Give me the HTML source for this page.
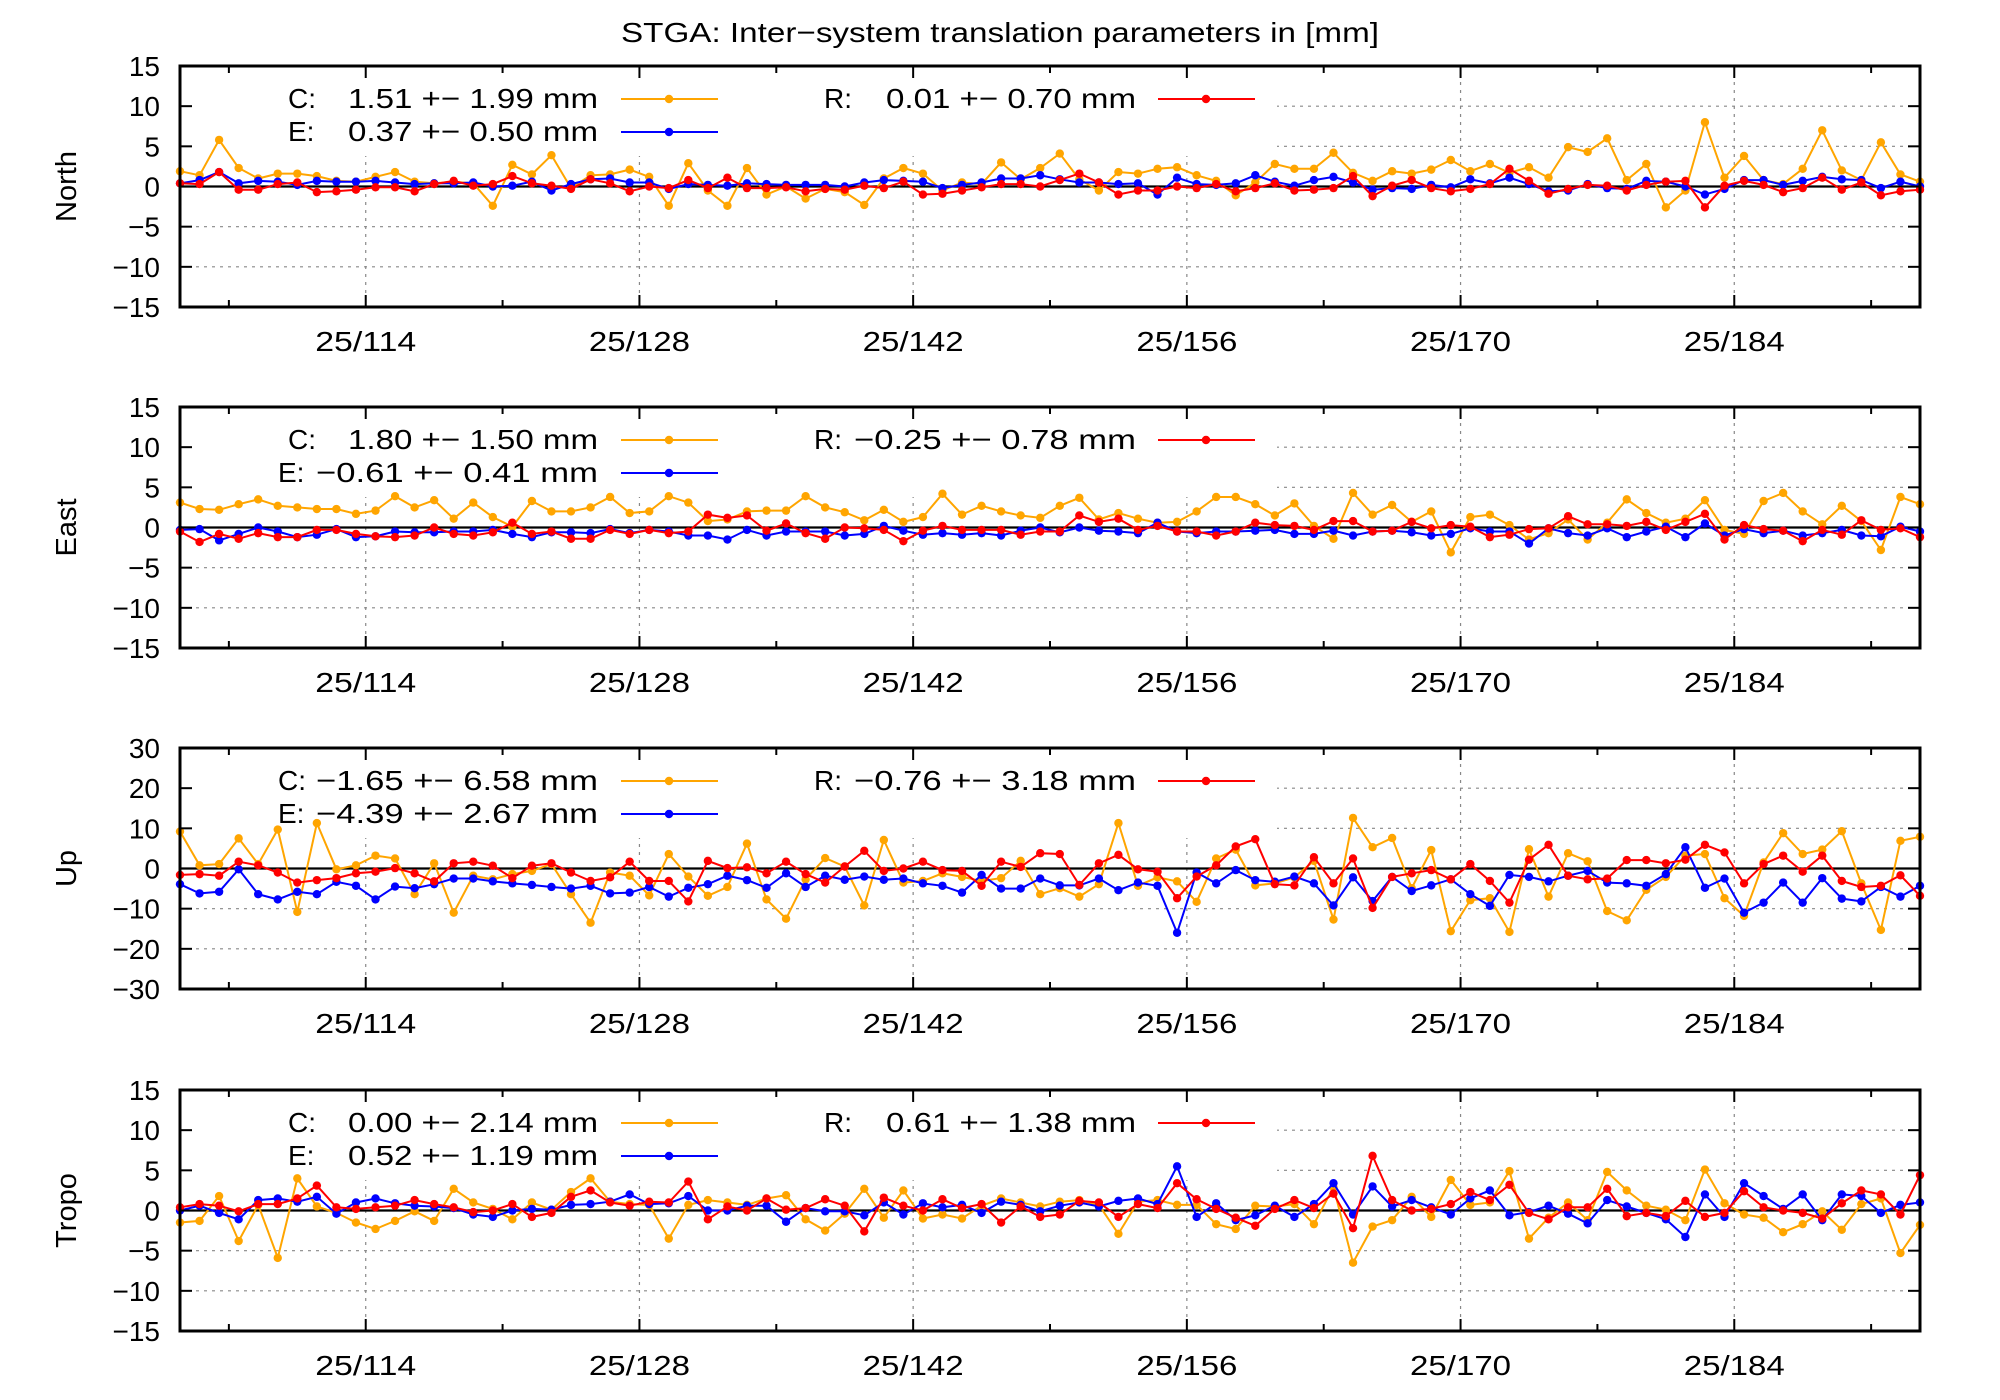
<!DOCTYPE html>
<html><head><meta charset="utf-8"><title>STGA inter-system translation parameters</title>
<style>
html,body{margin:0;padding:0;background:#fff;}
svg{display:block;font-family:"Liberation Sans",sans-serif;}
</style></head>
<body>
<svg id="chart" width="2000" height="1400" viewBox="0 0 2000 1400" xmlns="http://www.w3.org/2000/svg">
<rect x="0" y="0" width="2000" height="1400" fill="#fff"/>
<text x="1000" y="42" font-size="28" text-anchor="middle" textLength="758" lengthAdjust="spacingAndGlyphs">STGA: Inter−system translation parameters in [mm]</text>
</svg>
<script>
const days = Array.from({length: 90}, (_, i) => 104.5 + i);
const xTickDays = [114, 128, 142, 156, 170, 184];
const xTickLabels = ["25/114", "25/128", "25/142", "25/156", "25/170", "25/184"];
const xMinorDays = [107, 121, 135, 149, 163, 177, 191];

const northC = [1.9,1.4,5.8,2.3,1.0,1.6,1.6,1.3,0.7,0.6,1.2,1.8,0.6,0.4,0.6,0.4,-2.4,2.7,1.5,3.9,-0.2,1.4,1.5,2.1,1.2,-2.4,2.9,-0.5,-2.4,2.3,-1.0,
0,-1.5,-0.3,-0.7,-2.3,1.0,2.3,1.6,-0.5,0.5,0.3,3.0,0.9,2.3,4.1,0.9,-0.5,1.8,1.6,2.2,2.4,1.4,0.7,-1.1,0.5,2.8,2.2,2.2,4.2,1.7,
0.7,1.9,1.6,2.1,3.3,1.9,2.8,1.7,2.4,1.1,4.9,4.3,6.0,0.8,2.8,-2.6,-0.5,8.0,1.1,3.8,0.8,0.3,2.2,7.0,2.0,0.8,5.5,1.5,0.6];
const northE = [0.4,0.8,1.8,0.4,0.7,0.6,0.2,0.7,0.6,0.6,0.7,0.5,0.3,0.4,0.4,0.5,0,0.1,0.6,-0.5,0.3,0.9,1.0,0.5,0.5,-0.3,0.3,0.2,0.1,0.4,0.3,
0.2,0.2,0.2,0,0.5,0.8,0.7,0.6,-0.2,0.2,0.5,1.0,1.0,1.4,0.9,0.5,0.5,0.3,0.4,-1.0,1.1,0.3,0.2,0.4,1.4,0.6,0.1,0.8,1.2,0.5,
-0.4,-0.2,-0.3,0.2,-0.1,0.9,0.4,1.1,0.3,-0.6,-0.5,0.3,-0.2,-0.3,0.7,0.6,0,-1.0,-0.3,0.8,0.8,0.2,0.7,1.2,0.9,0.8,-0.2,0.6,0];
const northR = [0.4,0.3,1.8,-0.4,-0.4,0.3,0.5,-0.7,-0.6,-0.4,-0.1,-0.1,-0.6,0.3,0.7,0.1,0.3,1.3,0.4,0.1,-0.3,0.9,0.4,-0.6,0,-0.2,0.8,-0.2,1.1,-0.2,-0.2,
-0.1,-0.6,-0.3,-0.4,0.1,-0.2,0.6,-1.0,-0.9,-0.5,-0.1,0.3,0.3,0,0.8,1.6,0.5,-1.0,-0.5,-0.5,0,-0.2,0.3,-0.6,-0.2,0.4,-0.5,-0.4,-0.2,1.3,
-1.2,0.1,0.8,-0.2,-0.6,-0.3,0.3,2.2,0.7,-0.9,-0.3,0.2,0.1,-0.5,0.2,0.6,0.7,-2.6,0.1,0.7,0.2,-0.7,-0.2,1.1,-0.4,0.5,-1.1,-0.6,-0.4];

const eastC = [3.1,2.3,2.2,2.9,3.5,2.7,2.5,2.3,2.3,1.7,2.1,3.9,2.5,3.4,1.1,3.1,1.3,0.1,3.3,2.0,2.0,2.5,3.8,1.8,2.0,3.9,3.1,0.8,1.0,2.0,2.1,
2.1,3.9,2.5,1.9,0.9,2.2,0.7,1.3,4.2,1.6,2.7,2.0,1.5,1.2,2.7,3.7,1.0,1.8,1.1,0.6,0.7,2.0,3.8,3.8,2.9,1.5,3.0,0.2,-1.4,4.3,
1.6,2.8,0.7,2.0,-3.1,1.3,1.6,0.3,-1.5,-0.7,1.0,-1.5,0.6,3.5,1.8,0.6,1.1,3.4,-0.3,-0.8,3.3,4.3,2.0,0.4,2.7,0.8,-2.8,3.8,2.9];
const eastE = [-0.3,-0.2,-1.6,-0.8,0,-0.5,-1.2,-0.9,-0.2,-1.2,-1.1,-0.5,-0.6,-0.6,-0.5,-0.5,-0.3,-0.8,-1.2,-0.6,-0.6,-0.7,-0.2,-0.7,-0.3,-0.5,-1.0,-1.0,-1.5,-0.3,-1.0,
-0.5,-0.5,-0.5,-1.0,-0.8,0.2,-0.4,-0.9,-0.7,-0.9,-0.7,-1.0,-0.4,0,-0.6,0,-0.4,-0.5,-0.7,0.6,-0.5,-0.7,-0.5,-0.5,-0.4,-0.3,-0.8,-0.8,-0.4,-1.0,
-0.5,-0.4,-0.6,-1.0,-0.8,-0.1,-0.5,-0.5,-2.0,-0.1,-0.7,-1.0,-0.1,-1.2,-0.5,0.1,-1.2,0.5,-1.0,-0.2,-0.7,-0.4,-1.0,-0.7,-0.3,-1.0,-1.1,0.1,-0.5];
const eastR = [-0.5,-1.8,-0.8,-1.4,-0.7,-1.2,-1.2,-0.3,-0.3,-0.8,-1.1,-1.2,-1.0,0,-0.8,-1.0,-0.6,0.6,-0.8,-0.5,-1.4,-1.4,-0.3,-0.8,-0.3,-0.7,-0.5,1.6,1.2,1.5,-0.4,
0.5,-0.7,-1.4,0,-0.1,-0.3,-1.7,-0.4,0.2,-0.3,-0.3,-0.3,-0.9,-0.5,-0.5,1.5,0.7,1.1,-0.3,0.2,-0.5,-0.5,-1.0,-0.5,0.6,0.3,0.2,-0.3,0.8,0.8,
-0.5,-0.4,0.7,-0.1,0.3,0.1,-1.2,-0.9,-0.2,-0.1,1.4,0.4,0.4,0.2,0.7,-0.3,0.7,1.7,-1.5,0.3,-0.2,-0.4,-1.7,-0.3,-0.9,0.9,-0.3,-0.1,-1.2];

const upC = [9.2,0.8,1.1,7.5,1.1,9.7,-10.8,11.3,-0.2,0.8,3.2,2.5,-6.4,1.3,-11,-1.8,-2.7,-1.4,-0.6,1.1,-6.4,-13.5,-1,-1.8,-6.7,3.6,-2,-6.8,-4.6,6.2,-7.7,
-12.5,-2.7,2.6,0.5,-9.2,7.1,-3.5,-3.1,-1.2,-2.1,-3.1,-2.4,1.9,-6.4,-4.9,-7,-3.9,11.3,-4.3,-2.2,-3.2,-8.3,2.5,4.7,-4.2,-3.7,-2.2,1.9,-12.7,12.6,
5.3,7.6,-4.9,4.6,-15.6,-7.9,-7.4,-15.8,4.8,-7,3.8,1.8,-10.6,-12.9,-5.3,-2.1,3.2,3.6,-7.4,-11.8,1.5,8.8,3.6,4.7,9.3,-3.7,-15.3,6.9,7.9];
const upE = [-3.9,-6.2,-5.8,-0.2,-6.4,-7.7,-5.8,-6.4,-3.3,-4.3,-7.7,-4.5,-4.9,-3.9,-2.5,-2.5,-3.2,-3.7,-4.1,-4.6,-5,-4.3,-6.2,-6,-4.6,-7,-4.8,-3.9,-1.8,-2.9,-4.8,
-1.2,-4.6,-1.8,-2.8,-2,-2.8,-2.5,-3.7,-4.3,-6,-1.6,-5,-5,-2.5,-4.2,-4.2,-2.5,-5.4,-3.5,-4.3,-16,-1,-3.7,-0.4,-2.9,-3.3,-2,-3.7,-9.2,-2.2,
-8.1,-2.1,-5.6,-4.2,-2.7,-6.4,-9.3,-1.6,-2.1,-3.2,-1.8,-0.6,-3.5,-3.7,-4.3,-1.4,5.3,-4.8,-2.5,-11,-8.5,-3.5,-8.5,-2.4,-7.5,-8.2,-4.6,-7,-4.3];
const upR = [-1.6,-1.4,-1.8,1.7,0.8,-1,-3.5,-2.9,-2.4,-1.2,-0.8,0.1,-1.2,-3.2,1.3,1.7,0.7,-2.4,0.7,1.3,-1,-3.1,-2.2,1.7,-3.1,-3.1,-8.2,1.9,0.1,0.3,-1.2,
1.7,-1.4,-3.5,0.5,4.4,-0.6,0,1.7,-0.4,-0.6,-4.3,1.7,0.4,3.8,3.6,-4.1,1.3,3.4,-0.2,-0.8,-7.4,-2,0.8,5.5,7.3,-3.9,-4.2,2.8,-3.7,2.5,
-9.8,-2.1,-1.2,-0.4,-2.7,1.1,-3.1,-8.5,2.2,5.9,-1.8,-2.7,-2.5,2.1,2.1,1.3,2.2,5.9,4,-3.7,1.1,3.2,-0.8,3.2,-3.1,-4.6,-4.3,-1.7,-6.8];

const tropoC = [-1.5,-1.3,1.8,-3.8,0.7,-5.9,4.0,0.5,-0.3,-1.5,-2.3,-1.3,-0.1,-1.3,2.7,1.0,0.2,-1.1,1.0,0.1,2.3,4.0,1.1,0.8,0.7,-3.5,0.7,1.3,1.0,0.7,1.5,
1.9,-1.1,-2.5,-0.4,2.7,-0.9,2.5,-1.0,-0.5,-1.0,0.6,1.5,1.0,0.5,1.1,1.3,0.7,-2.9,1.1,1.3,0.7,0.7,-1.7,-2.3,0.6,0.5,0.8,-1.7,2.9,-6.5,
-2.0,-1.2,1.7,-0.8,3.8,0.7,1.0,4.9,-3.5,-0.9,1.0,-1.2,4.8,2.5,0.6,0.1,-1.2,5.1,0.9,-0.5,-0.9,-2.7,-1.7,-0.1,-2.4,0.8,1.5,-5.3,-1.8];
const tropoE = [0,0.6,-0.3,-1.1,1.3,1.5,1.1,1.7,-0.4,1.0,1.5,0.9,0.6,0.5,0.3,-0.5,-0.8,0,0.2,0.1,0.7,0.8,1.1,2.0,0.8,0.9,1.8,0,0,0.6,0.6,
-1.4,0.3,-0.1,-0.1,-0.6,1.0,-0.5,0.9,0.4,0.7,-0.3,1.1,0.7,-0.1,0.6,1.0,0.5,1.2,1.5,0.8,5.5,-0.8,0.9,-1.2,-0.6,0.6,-0.8,0.8,3.4,-0.5,
3.0,0.5,1.3,0.4,-0.5,1.5,2.5,-0.6,-0.2,0.6,-0.4,-1.6,1.3,0.5,-0.3,-1.1,-3.3,2.0,-0.8,3.4,1.8,0.2,2.0,-1.2,2.0,1.8,-0.3,0.7,1.0];
const tropoR = [0.4,0.8,0.6,-0.1,0.8,0.8,1.5,3.1,0.4,0.2,0.4,0.6,1.3,0.8,0.4,-0.2,0,0.8,-0.8,-0.3,1.7,2.5,1.0,0.6,1.1,1.0,3.6,-1.1,0.5,0,1.5,
0.1,0.3,1.4,0.6,-2.6,1.6,0.6,0,1.4,0.3,0.8,-1.5,0.5,-0.8,-0.5,1.2,1.0,-0.8,0.8,0.3,3.4,1.4,0.2,-0.9,-1.9,0.2,1.3,0.3,2.1,-2.2,
6.8,1.3,0,0.2,0.8,2.3,1.3,3.2,-0.3,-1.1,0.4,0.4,2.7,-0.7,-0.3,-0.7,1.2,-0.8,-0.3,2.4,0.4,0,-0.3,-1.0,0.9,2.5,2.0,-0.5,4.4];

const panelNames = ["North", "East", "Up", "Tropo"];
const yTicksSmall = [-15, -10, -5, 0, 5, 10, 15];
const yTicksUp = [-30, -20, -10, 0, 10, 20, 30];
const legendC = ["1.51 +− 1.99 mm", "1.80 +− 1.50 mm", "−1.65 +− 6.58 mm", "0.00 +− 2.14 mm"];
const legendE = ["0.37 +− 0.50 mm", "−0.61 +− 0.41 mm", "−4.39 +− 2.67 mm", "0.52 +− 1.19 mm"];
const legendR = ["0.01 +− 0.70 mm", "−0.25 +− 0.78 mm", "−0.76 +− 3.18 mm", "0.61 +− 1.38 mm"];

const NS = "http://www.w3.org/2000/svg";
const svg = document.getElementById("chart");
const PL = 180, PR = 1920, PH = 241;
const panelTops = [66, 407, 748, 1090];
const XMIN = 104.5, XMAX = 193.5;
const COL = {C: "#ffa500", E: "#0000ff", R: "#ff0000"};
function xScale(d) { return PL + (d - XMIN) / (XMAX - XMIN) * (PR - PL); }
function mk(tag, attrs, parent) {
  const e = document.createElementNS(NS, tag);
  for (const k in attrs) e.setAttribute(k, attrs[k]);
  (parent || svg).appendChild(e);
  return e;
}
function fmt(v) { return v < 0 ? "−" + Math.abs(v) : String(v); }

const seriesByPanel = [[northC, northE, northR], [eastC, eastE, eastR], [upC, upE, upR], [tropoC, tropoE, tropoR]];

panelNames.forEach((name, p) => {
  const top = panelTops[p], bot = top + PH;
  const ticks = p === 2 ? yTicksUp : yTicksSmall;
  const ymin = ticks[0], ymax = ticks[ticks.length - 1];
  const yScale = v => bot - (v - ymin) / (ymax - ymin) * PH;
  const g = mk("g", {});
  
  

  const grid = mk("g", {stroke: "#888", "stroke-width": 1.2, "stroke-dasharray": "3,5"}, g);
  
  
  ticks.forEach(t => {
    if (t === ymin || t === ymax || t === 0) return;
    mk("line", {x1: PL, x2: PR, y1: yScale(t), y2: yScale(t)}, grid);
  });
  xTickDays.forEach(d => mk("line", {x1: xScale(d), x2: xScale(d), y1: top, y2: bot}, grid));

  const lb = mk("rect", {x: PL + 2, y: top + 2, width: 1275 - PL, height: 88, fill: "#fff"}, g);
  
  

  const z = mk("line", {x1: PL, x2: PR, y1: yScale(0), y2: yScale(0), stroke: "#000", "stroke-width": 2.2}, g);
  
  

  const keys = ["C", "E", "R"];
  seriesByPanel[p].forEach((vals, s) => {
    const sg = mk("g", {}, g);
    
    
    const pts = vals.map((v, i) => xScale(days[i]).toFixed(1) + "," + yScale(v).toFixed(1)).join(" ");
    mk("polyline", {points: pts, fill: "none", stroke: COL[keys[s]], "stroke-width": 2}, sg);
    vals.forEach((v, i) => {
      const c = mk("circle", {cx: xScale(days[i]), cy: yScale(v), r: 4.2, fill: COL[keys[s]]}, sg);
      
      
    });
  });

  const legs = [["C:", legendC[p], top + 42, COL.C, 598, 621], ["E:", legendE[p], top + 75, COL.E, 598, 621], ["R:", legendR[p], top + 42, COL.R, 1136, 1158]];
  legs.forEach((L, k) => {
    const lg = mk("g", {}, g);
    
    
    const neg = L[1][0] === "−";
    const keyX = k === 2 ? (neg ? 814 : 824) : (neg ? 278 : 288);
    const t1 = mk("text", {x: keyX, y: L[2], "font-size": 28}, lg);
    t1.textContent = L[0];
    const t2 = mk("text", {x: L[4], y: L[2], "font-size": 28, "text-anchor": "end", textLength: neg ? 282 : 250, lengthAdjust: "spacingAndGlyphs"}, lg);
    t2.textContent = L[1];
    const ly = L[2] - 9;
    mk("line", {x1: L[5], x2: L[5] + 97, y1: ly, y2: ly, stroke: L[3], "stroke-width": 2}, lg);
    mk("circle", {cx: L[5] + 48, cy: ly, r: 4.2, fill: L[3]}, lg);
  });

  const fr = mk("rect", {x: PL, y: top, width: PR - PL, height: PH, fill: "none", stroke: "#000", "stroke-width": 3}, g);
  
  

  const ya = mk("g", {}, g);
  
  
  ticks.forEach(t => {
    const y = yScale(t);
    mk("line", {x1: PL, x2: PL + 12, y1: y, y2: y, stroke: "#000", "stroke-width": 2}, ya);
    mk("line", {x1: PR - 12, x2: PR, y1: y, y2: y, stroke: "#000", "stroke-width": 2}, ya);
    const tl = mk("text", {x: 160, y: y + 10, "font-size": 28, "text-anchor": "end"}, ya);
    
    
    tl.textContent = fmt(t);
  });
  const xa = mk("g", {}, g);
  
  
  xTickDays.forEach((d, i) => {
    const x = xScale(d);
    mk("line", {x1: x, x2: x, y1: bot, y2: bot - 12, stroke: "#000", "stroke-width": 2}, xa);
    mk("line", {x1: x, x2: x, y1: top, y2: top + 12, stroke: "#000", "stroke-width": 2}, xa);
    const tl = mk("text", {x: x, y: bot + 44, "font-size": 28, "text-anchor": "middle", textLength: 101, lengthAdjust: "spacingAndGlyphs"}, xa);
    
    
    tl.textContent = xTickLabels[i];
  });
  xMinorDays.forEach(d => {
    const x = xScale(d);
    mk("line", {x1: x, x2: x, y1: bot, y2: bot - 7, stroke: "#000", "stroke-width": 2}, xa);
    mk("line", {x1: x, x2: x, y1: top, y2: top + 7, stroke: "#000", "stroke-width": 2}, xa);
  });
  const cy = top + PH / 2;
  const yt = mk("text", {x: 0, y: 0, "font-size": 29, "text-anchor": "middle", transform: "translate(76," + cy + ") rotate(-90)"}, g);
  
  
  yt.textContent = name;
});
</script>
</body></html>
